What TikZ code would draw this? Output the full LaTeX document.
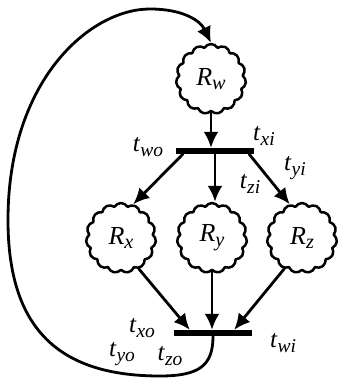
\documentclass[tikz,border=0pt]{standalone}
\usepackage{fontspec}
\usepackage{graphicx}
\setmainfont{Liberation Serif}
\usetikzlibrary{arrows.meta,shapes.symbols}
\newcommand{\tlbl}[2]{\textit{#1}\raisebox{-0.4ex}{\scalebox{0.78}{\textit{#2}}}}

\begin{document}
\begin{tikzpicture}[x=1pt,y=-1pt,>={Latex[length=16pt,width=15pt]},line cap=round,line join=round]
\path[fill=white] (0,0) rectangle (339,379);
\tikzset{flow/.style={draw=black,line width=2.8pt},cloudnode/.style={cloud,cloud puffs=15,cloud puff arc=120,aspect=1,draw=black,line width=2.5pt,minimum width=70pt,minimum height=70pt,inner sep=0pt,font=\fontsize{26}{28}\selectfont},bar/.style={fill=black,minimum width=78pt,minimum height=6pt,inner sep=0pt},lbl/.style={font=\fontsize{25}{27}\selectfont}}
\node[cloudnode] (Rw) at (211,79) {\tlbl{R}{w}};
\node[cloudnode] (Rx) at (121,238) {\tlbl{R}{x}};
\node[cloudnode] (Ry) at (212,238) {\tlbl{R}{y}};
\node[cloudnode] (Rz) at (302,238) {\tlbl{R}{z}};
\node[bar] (barTop) at (215,151) {};
\node[bar] (barBot) at (213,333) {};
\draw[flow,->] (Rw.south) -- (Rw.south |- barTop.north);
\draw[flow,->] ([xshift=7pt]barTop.south west) -- (Rx.70);
\draw[flow,->] (barTop.south) -- (barTop.south |- Ry.north);
\draw[flow,->] ([xshift=-5pt]barTop.south east) -- (Rz.110);
\draw[flow,->] (Rx.-60) -- ([xshift=16pt]barBot.north west);
\draw[flow,->] (Ry.south) -- (Ry.south |- barBot.north);
\draw[flow,->] (Rz.-120) -- ([xshift=-18pt]barBot.north east);
\draw[flow,->] (barBot.south) .. controls (213,365) and (200,376) .. (160,376) .. controls (60,376) and (8,330) .. (8,220) .. controls (8,80) and (90,9) .. (150,9) .. controls (182,9) and (200,20) .. (Rw.north);
\node[lbl] (two) at (148,147) {\tlbl{t}{wo}};
\node[lbl] (txi) at (264,136) {\tlbl{t}{xi}};
\node[lbl] (tyi) at (295,168) {\tlbl{t}{yi}};
\node[lbl] (tzi) at (250,184) {\tlbl{t}{zi}};
\node[lbl] (txo) at (142,328) {\tlbl{t}{xo}};
\node[lbl] (tyo) at (122,354) {\tlbl{t}{yo}};
\node[lbl] (tzo) at (170,356) {\tlbl{t}{zo}};
\node[lbl] (twi) at (283,343) {\tlbl{t}{wi}};
\end{tikzpicture}
\end{document}
